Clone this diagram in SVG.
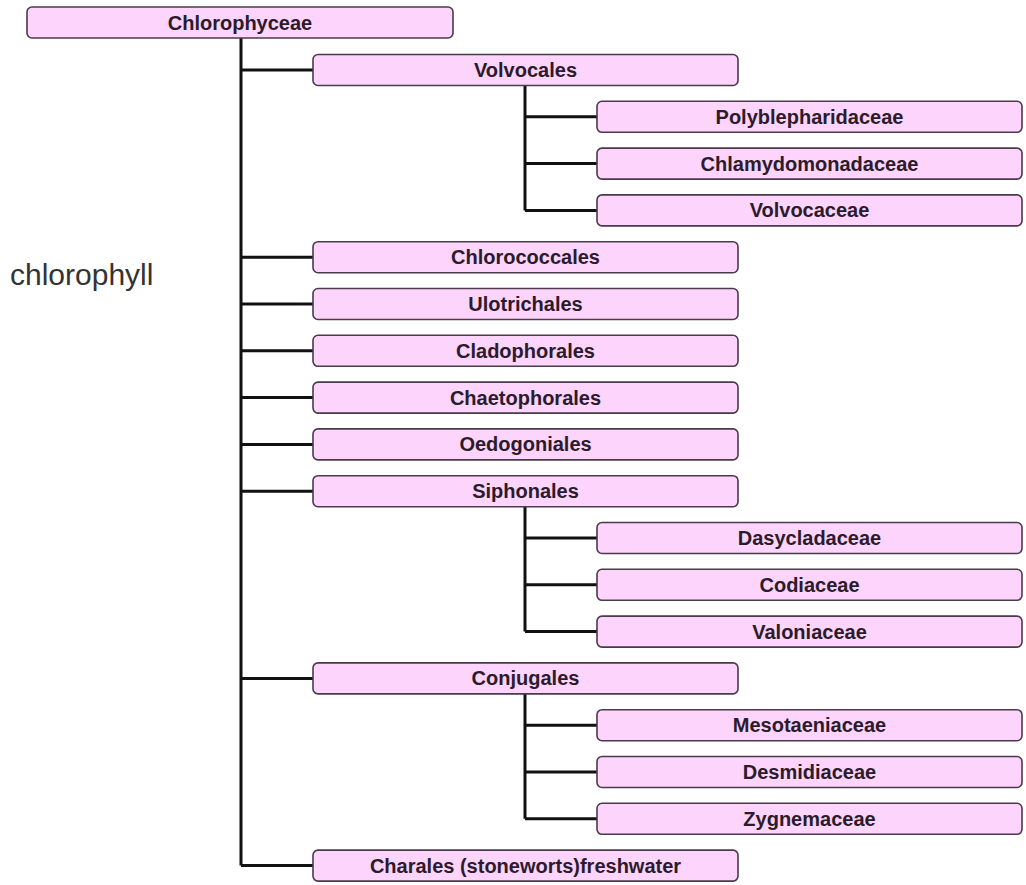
<svg xmlns="http://www.w3.org/2000/svg" width="1026" height="885" viewBox="0 0 1026 885">
<style>
.box{fill:#fcd4fc;stroke:#4a3a4a;stroke-width:1.6}
.lbl{font-family:"Liberation Sans",Arial,sans-serif;font-weight:bold;font-size:20px;fill:#2b1b2b;text-anchor:middle}
.con{fill:none;stroke:#111;stroke-width:3}
</style>
<rect width="1026" height="885" fill="#fff"/>
<text x="10" y="285" font-family="Liberation Sans, Arial, sans-serif" font-size="30" fill="#333">chlorophyll</text>
<g id="connectors" class="con">
<path d="M241,38 V865.6"/>
<path d="M241,70 H313 M241,257.2 H313 M241,304 H313 M241,350.8 H313 M241,397.6 H313 M241,444.4 H313 M241,491.2 H313 M241,678.4 H313 M241,865.6 H313"/>
<path d="M525,85.5 V210.4 M525,116.8 H597 M525,163.6 H597 M525,210.4 H597"/>
<path d="M525,506.7 V631.6 M525,538 H597 M525,584.8 H597 M525,631.6 H597"/>
<path d="M525,693.9 V818.8 M525,725.2 H597 M525,772 H597 M525,818.8 H597"/>
</g>
<g id="n-chlorophyceae"><rect class="box" x="27" y="7" width="426" height="31" rx="5"/><text class="lbl" x="240" y="29.5">Chlorophyceae</text></g>
<g id="n-volvocales"><rect class="box" x="313" y="54.5" width="425" height="31" rx="5"/><text class="lbl" x="525.5" y="77">Volvocales</text></g>
<g id="n-polyblepharidaceae"><rect class="box" x="597" y="101.3" width="425" height="31" rx="5"/><text class="lbl" x="809.5" y="123.8">Polyblepharidaceae</text></g>
<g id="n-chlamydomonadaceae"><rect class="box" x="597" y="148.1" width="425" height="31" rx="5"/><text class="lbl" x="809.5" y="170.6">Chlamydomonadaceae</text></g>
<g id="n-volvocaceae"><rect class="box" x="597" y="194.9" width="425" height="31" rx="5"/><text class="lbl" x="809.5" y="217.4">Volvocaceae</text></g>
<g id="n-chlorococcales"><rect class="box" x="313" y="241.7" width="425" height="31" rx="5"/><text class="lbl" x="525.5" y="264.2">Chlorococcales</text></g>
<g id="n-ulotrichales"><rect class="box" x="313" y="288.5" width="425" height="31" rx="5"/><text class="lbl" x="525.5" y="311">Ulotrichales</text></g>
<g id="n-cladophorales"><rect class="box" x="313" y="335.3" width="425" height="31" rx="5"/><text class="lbl" x="525.5" y="357.8">Cladophorales</text></g>
<g id="n-chaetophorales"><rect class="box" x="313" y="382.1" width="425" height="31" rx="5"/><text class="lbl" x="525.5" y="404.6">Chaetophorales</text></g>
<g id="n-oedogoniales"><rect class="box" x="313" y="428.9" width="425" height="31" rx="5"/><text class="lbl" x="525.5" y="451.4">Oedogoniales</text></g>
<g id="n-siphonales"><rect class="box" x="313" y="475.7" width="425" height="31" rx="5"/><text class="lbl" x="525.5" y="498.2">Siphonales</text></g>
<g id="n-dasycladaceae"><rect class="box" x="597" y="522.5" width="425" height="31" rx="5"/><text class="lbl" x="809.5" y="545">Dasycladaceae</text></g>
<g id="n-codiaceae"><rect class="box" x="597" y="569.3" width="425" height="31" rx="5"/><text class="lbl" x="809.5" y="591.8">Codiaceae</text></g>
<g id="n-valoniaceae"><rect class="box" x="597" y="616.1" width="425" height="31" rx="5"/><text class="lbl" x="809.5" y="638.6">Valoniaceae</text></g>
<g id="n-conjugales"><rect class="box" x="313" y="662.9" width="425" height="31" rx="5"/><text class="lbl" x="525.5" y="685.4">Conjugales</text></g>
<g id="n-mesotaeniaceae"><rect class="box" x="597" y="709.7" width="425" height="31" rx="5"/><text class="lbl" x="809.5" y="732.2">Mesotaeniaceae</text></g>
<g id="n-desmidiaceae"><rect class="box" x="597" y="756.5" width="425" height="31" rx="5"/><text class="lbl" x="809.5" y="779">Desmidiaceae</text></g>
<g id="n-zygnemaceae"><rect class="box" x="597" y="803.3" width="425" height="31" rx="5"/><text class="lbl" x="809.5" y="825.8">Zygnemaceae</text></g>
<g id="n-charales"><rect class="box" x="313" y="850.1" width="425" height="31" rx="5"/><text class="lbl" x="525.5" y="872.6">Charales (stoneworts)freshwater</text></g>
</svg>
